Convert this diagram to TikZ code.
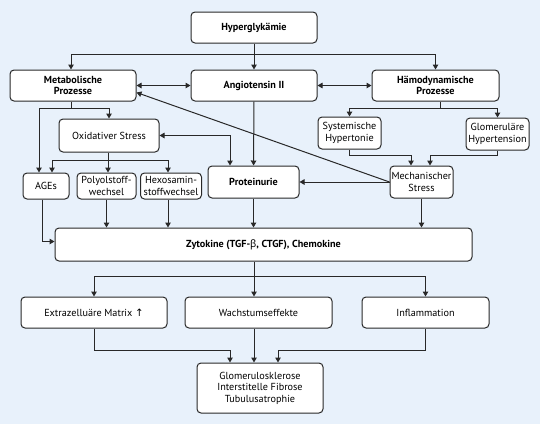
\documentclass[tikz,border=0pt]{standalone}
\usepackage{fontspec}
\setmainfont{PT Sans}
\newfontfamily\grkfont{Noto Sans}
\newfontfamily\symfont{DejaVu Sans}
\usetikzlibrary{arrows.meta,calc}
\definecolor{bgblue}{RGB}{232,241,251}
\definecolor{lineg}{RGB}{40,40,40}
\tikzset{
  box/.style={draw=lineg, line width=1pt, rounded corners=4pt, fill=white, align=center,
    inner sep=1pt, font=\fontsize{10.2}{11.5}\selectfont},
  bbox/.style={box, font=\fontsize{10.2}{11.5}\selectfont\bfseries},
  conn/.style={draw=lineg, line width=1pt},
  arr/.style={conn, -{Triangle[length=5pt,width=5.5pt]}},
  dbl/.style={conn, {Triangle[length=5pt,width=5.5pt]}-{Triangle[length=5pt,width=5.5pt]}}
}
\begin{document}
\begin{tikzpicture}[x=1pt,y=-1pt]
\fill[bgblue] (0,0) rectangle (540,424);
\useasboundingbox (0,0) rectangle (540,424);

\node[bbox, minimum width=126pt, minimum height=31pt] (hyp) at (254,27.5) {Hyperglykämie};
\node[bbox, minimum width=126pt, minimum height=31pt] (met) at (73,85.5) {Metabolische\\Prozesse};
\node[bbox, minimum width=126pt, minimum height=31pt] (ang) at (254,85.5) {Angiotensin II};
\node[bbox, minimum width=127pt, minimum height=31pt] (ham) at (435.5,85.5) {Hämodynamische\\Prozesse};
\node[box, minimum width=100pt, minimum height=33pt] (oxs) at (109,135.5) {Oxidativer Stress};
\node[box, minimum width=46pt, minimum height=26pt] (ages) at (46,186) {AGEs};
\node[box, minimum width=59pt, minimum height=26pt] (poly) at (106.5,186) {Polyolstoff-\\wechsel};
\node[box, minimum width=61pt, minimum height=26pt] (hex) at (171,186) {Hexosamin-\\stoffwechsel};
\node[bbox, minimum width=91pt, minimum height=32pt] (prot) at (253.5,182) {Proteinurie};
\node[box, minimum width=63pt, minimum height=32pt] (sys) at (349.5,133) {Systemische\\Hypertonie};
\node[box, minimum width=63pt, minimum height=32pt] (glo) at (497.5,134) {Glomeruläre\\Hypertension};
\node[box, minimum width=63pt, minimum height=32pt] (mech) at (421.5,182) {Mechanischer\\Stress};
\node[bbox, minimum width=417pt, minimum height=33pt] (zyt) at (263.5,244.5) {Zytokine (TGF-{\grkfont β}, CTGF), Chemokine};
\node[box, minimum width=146pt, minimum height=31pt] (ecm) at (94,312.5) {Extrazelluäre Matrix {\symfont ↑}};
\node[box, minimum width=147pt, minimum height=31pt] (wach) at (258.5,312.5) {Wachstumseffekte};
\node[box, minimum width=127pt, minimum height=31pt] (inf) at (425.5,312.5) {Inflammation};
\node[box, minimum width=126pt, minimum height=50pt] (glom) at (260,388) {Glomerulosklerose\\Interstitelle Fibrose\\Tubulusatrophie};

% top
\draw[arr] (hyp) -- (ang);
\coordinate (j1) at (254,54);
\draw[arr] (j1) -| ([xshift=-2pt]met.north);
\draw[arr] (j1) -| (ham.north);
\draw[dbl] (met) -- (ang);
\draw[dbl] (ang) -- (ham);
\draw[arr] (mech.west) -- ([yshift=-7pt]met.east);
\draw[arr] (mech.west) -- (prot.east);

% metabolic branch
\coordinate (ms) at ([xshift=-2pt]met.south);
\draw[conn] (ms) -- ++(0,7) coordinate (j2);
\draw[arr] (j2) -| (oxs.north);
\draw[arr] (j2) -| ([xshift=-7pt]ages.north);
\coordinate (os) at ([xshift=-1pt]oxs.south);
\draw[conn] (os) -- ++(0,8) coordinate (j3);
\draw[arr] (j3) -| ([xshift=6pt]ages.north);
\draw[arr] (j3) -- (j3 |- poly.north);
\draw[arr] (j3) -| ([xshift=-3pt]hex.north);
\draw[dbl] (oxs.east) -| ([xshift=-23.5pt]prot.north);
\draw[arr] (ang) -- (prot);

% hemodynamic branch
\draw[conn] ([xshift=4.5pt]ham.south) -- ++(0,7) coordinate (j4);
\draw[arr] (j4) -| (sys.north);
\draw[arr] (j4) -| (glo.north);
\draw[arr] (sys.south) -- ++(0,6) -| ([xshift=-10.5pt]mech.north);
\draw[arr] (glo.south) -- ++(0,5) -| ([xshift=8.5pt]mech.north);

% into cytokines
\draw[arr] (mech.south) -- (mech.south |- zyt.north);
\draw[arr] ([xshift=-4pt]ages.south) |- ([yshift=3pt]zyt.west);
\draw[arr] (poly.south) -- (poly.south |- zyt.north);
\coordinate (hs) at ([xshift=-3pt]hex.south);
\draw[arr] (hs) -- (hs |- zyt.north);
\draw[arr] (prot.south) -- (prot.south |- zyt.north);

% out of cytokines
\coordinate (zs) at ([xshift=-9.5pt]zyt.south);
\draw[arr] (zs) -- (zs |- wach.north);
\path (zs) ++(0,15) coordinate (j5);
\draw[arr] (j5) -| (ecm.north);
\draw[arr] (j5) -| (inf.north);

% into final
\draw[arr] (ecm.south) -- ++(0,22) -| ([xshift=-30pt]glom.north);
\coordinate (ws) at ([xshift=-4.5pt]wach.south);
\draw[arr] (ws) -- (ws |- glom.north);
\draw[arr] (inf.south) -- ++(0,22) -| ([xshift=18pt]glom.north);
\end{tikzpicture}
\end{document}
